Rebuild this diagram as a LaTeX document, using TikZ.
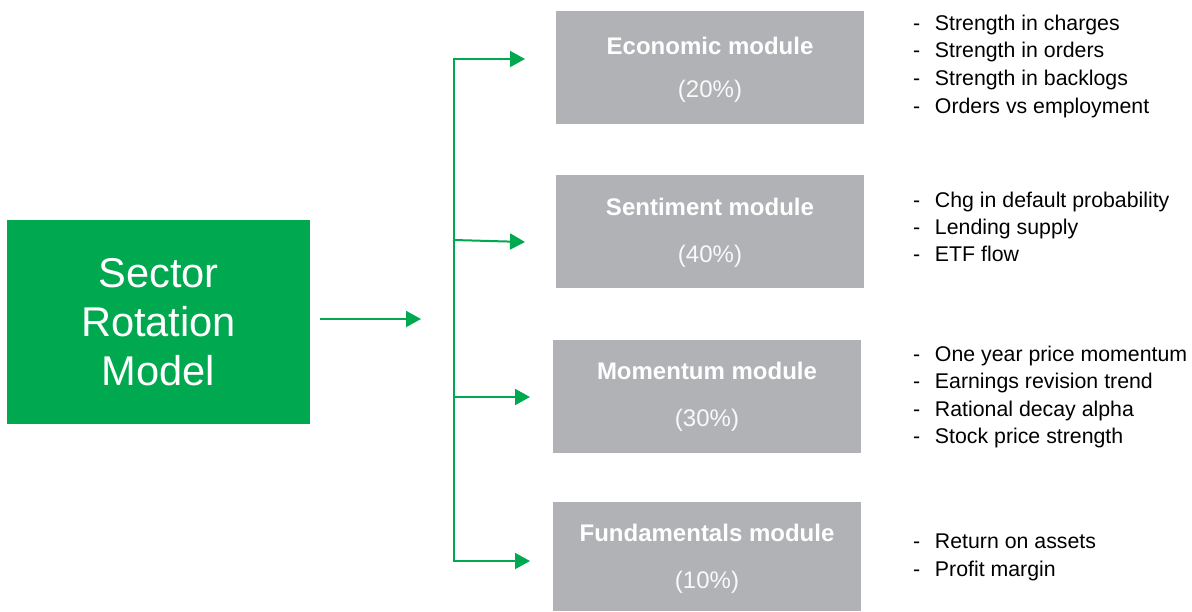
\documentclass[tikz,border=0pt]{standalone}
\usepackage{fontspec}
\setmainfont{Liberation Sans}
\usetikzlibrary{arrows.meta}
\definecolor{rotgreen}{HTML}{00A94F}
\definecolor{modgray}{HTML}{B1B2B5}
\newcommand{\listdash}{\makebox[22pt][l]{-}}

\begin{document}
\begin{tikzpicture}[x=1pt,y=-1pt,every node/.style={inner sep=0pt, outer sep=0pt},
  module/.style={fill=modgray, minimum width=308pt, minimum height=113pt, anchor=north west},
  title/.style={anchor=base, text=white, font=\fontsize{24}{28}\selectfont\bfseries},
  share/.style={anchor=base, text=white!92!modgray, font=\fontsize{24}{28}\selectfont},
  item/.style={anchor=base west, font=\fontsize{21.3}{26}\selectfont},
  flow/.style={rotgreen, line width=2pt, line cap=rect, -{Triangle[length=15pt,width=16pt]}}]

\useasboundingbox (0,0) rectangle (1192,611);

% main block
\node[fill=rotgreen, minimum width=303pt, minimum height=204pt, anchor=north west,
  text=white, align=center, font=\fontsize{41.6}{49}\selectfont] (sector) at (7,220) {Sector\\Rotation\\Model};

% modules
\node[module] (eco) at (556,11) {};
\node[module] (sent) at (556,175) {};
\node[module] (mom) at (553,340) {};
\node[module, minimum height=109pt] (fund) at (553,502) {};

\node[title] (ecotitle) at (710,54) {Economic module};
\node[share] (ecoshare) at (710,97) {(20\%)};
\node[title] (senttitle) at (710,215) {Sentiment module};
\node[share] (sentshare) at (710,262) {(40\%)};
\node[title] (momtitle) at (707,379) {Momentum module};
\node[share] (momshare) at (707,426) {(30\%)};
\node[title] (fundtitle) at (707,541) {Fundamentals module};
\node[share] (fundshare) at (707,588) {(10\%)};

% factor lists
\node[item] (eco1) at (913,30) {\listdash Strength in charges};
\node[item] (eco2) at (913,57) {\listdash Strength in orders};
\node[item] (eco3) at (913,85) {\listdash Strength in backlogs};
\node[item] (eco4) at (913,113) {\listdash Orders vs employment};

\node[item] (sent1) at (913,207) {\listdash Chg in default probability};
\node[item] (sent2) at (913,234) {\listdash Lending supply};
\node[item] (sent3) at (913,261) {\listdash ETF flow};

\node[item] (mom1) at (913,361) {\listdash One year price momentum};
\node[item] (mom2) at (913,388) {\listdash Earnings revision trend};
\node[item] (mom3) at (913,416) {\listdash Rational decay alpha};
\node[item] (mom4) at (913,443) {\listdash Stock price strength};

\node[item] (fund1) at (913,548) {\listdash Return on assets};
\node[item] (fund2) at (913,576) {\listdash Profit margin};

% connectors
\coordinate (hub) at (421,319);
\coordinate (ecofork) at (454,59);
\coordinate (sentfork) at (454,240);
\coordinate (momfork) at (454,397);
\coordinate (fundfork) at (454,561);
\coordinate (ecotip) at (525,59);
\coordinate (senttip) at (525,242);
\coordinate (momtip) at (530,397);
\coordinate (fundtip) at (530,561);

\draw[flow] ([xshift=11pt,yshift=3pt]sector.east) -- (hub);
\draw[flow] (ecofork) -- (ecotip);
\draw[flow] (ecofork) -- (fundfork) -- (fundtip);
\draw[flow] (sentfork) -- (senttip);
\draw[flow] (momfork) -- (momtip);
\end{tikzpicture}
\end{document}
